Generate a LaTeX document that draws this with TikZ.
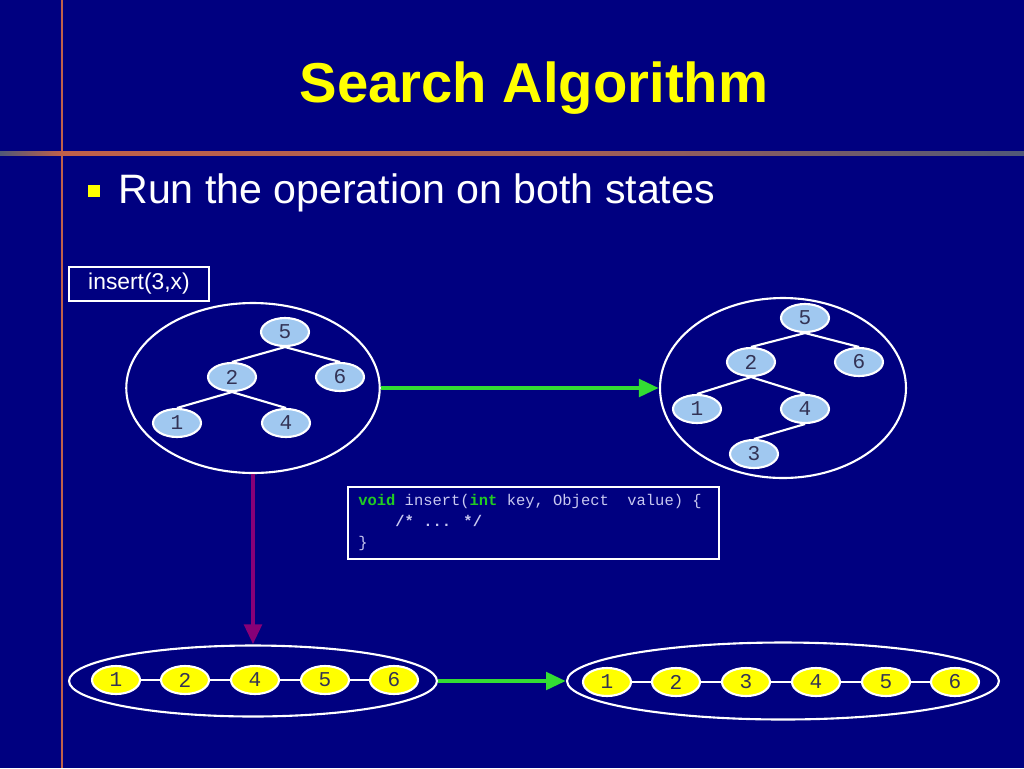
\documentclass[tikz,border=0pt]{standalone}
\usepackage{fontspec}
\setmainfont{Liberation Sans}
\newfontfamily\codefont{Liberation Mono}
\usepackage{tikz}
\usetikzlibrary{shapes.geometric,arrows.meta,positioning}
\definecolor{SlideBlue}{HTML}{000080}
\definecolor{SlideYellow}{HTML}{FFFF00}
\definecolor{NodeBlue}{HTML}{A0C8F0}
\definecolor{ArrowGreen}{HTML}{33DD33}
\definecolor{ArrowPurple}{HTML}{880077}
\definecolor{RuleRed}{HTML}{C0604A}
\definecolor{RuleGray}{HTML}{505878}
\definecolor{CodeText}{HTML}{C8C8F0}
\definecolor{CodeKey}{HTML}{22CC22}
\definecolor{DigitGray}{HTML}{333355}
\tikzset{
  treenode/.style={ellipse, draw=white, line width=1.2pt, fill=NodeBlue,
    minimum width=0.96cm, minimum height=0.56cm, inner sep=0pt,
    font=\codefont\fontsize{12}{12}\selectfont, text=DigitGray},
  listnode/.style={treenode, fill=SlideYellow},
  groupring/.style={ellipse, draw=white, line width=1.2pt, inner sep=0pt},
  treeedge/.style={draw=white, line width=1.2pt},
  movearrow/.style={line width=2.8pt, -{Triangle[length=0.4cm,width=0.34cm]}},
}
\begin{document}
\begin{tikzpicture}[x=0.02cm,y=-0.02cm]
        \fill[SlideBlue] (0,0) rectangle (1024,768);
        \useasboundingbox (0,0) rectangle (1024,768);
        % slide rules
        \shade[left color=RuleGray, right color=RuleRed] (0,151) rectangle (62,155);
        \shade[left color=RuleRed, right color=RuleGray, middle color=RuleRed!80!RuleGray] (62,151) rectangle (1024,155);
        \draw[RuleRed, line width=1.6pt] (62,0) -- (62,768);
        % title and bullet
        \node[font=\bfseries\fontsize{32}{32}\selectfont, text=SlideYellow, anchor=base] (title) at (534,102) {Search Algorithm};
        \fill[SlideYellow] (88,185) rectangle (100,197);
        \node[font=\fontsize{23.4}{24}\selectfont, text=white, anchor=base west, inner sep=0pt] (point) at (118,203) {Run the operation on both states};
        \node[draw=white, line width=0.6pt, minimum width=2.8cm, minimum height=0.68cm, text=white, font=\fontsize{13}{13}\selectfont] (op) at (139,284) {insert(3,x)};
        % tree before
        \node[groupring, minimum width=5.07cm, minimum height=3.4cm] (ltree) at (253,388) {};
        \node[treenode] (a5) at (285,332) {5};
        \node[treenode] (a2) at (232,377) {2};
        \node[treenode] (a6) at (340,377) {6};
        \node[treenode] (a1) at (177,423) {1};
        \node[treenode] (a4) at (286,423) {4};
        \draw[treeedge] (a5.south) -- (a2.north);
        \draw[treeedge] (a5.south) -- (a6.north);
        \draw[treeedge] (a2.south) -- (a1.north);
        \draw[treeedge] (a2.south) -- (a4.north);
        % tree after
        \node[groupring, minimum width=4.92cm, minimum height=3.6cm] (rtree) at (783,388) {};
        \node[treenode] (b5) at (805,318) {5};
        \node[treenode] (b2) at (751,362) {2};
        \node[treenode] (b6) at (859,362) {6};
        \node[treenode] (b1) at (697,409) {1};
        \node[treenode] (b4) at (805,409) {4};
        \node[treenode] (b3) at (754,454) {3};
        \draw[treeedge] (b5.south) -- (b2.north);
        \draw[treeedge] (b5.south) -- (b6.north);
        \draw[treeedge] (b2.south) -- (b1.north);
        \draw[treeedge] (b2.south) -- (b4.north);
        \draw[treeedge] (b4.south) -- (b3.north);
        % code
        \node[draw=white, line width=1.2pt, minimum width=7.42cm, minimum height=1.44cm] (codebox) at (533.5,523) {};
        \node[anchor=north west, inner sep=0pt, align=left, text=CodeText, font=\codefont\fontsize{8.8}{12}\selectfont] (code) at (358,494)
          {\textcolor{CodeKey}{\textbf{void}} insert(\textcolor{CodeKey}{\textbf{int}} key, Object\ \ value) \{\\
           \ \ \ \ \textbf{/* ... */}\\
           \}};
        % list before
        \node[groupring, minimum width=7.36cm, minimum height=1.42cm] (lseq) at (253,681) {};
        \node[listnode] (c1) at (116,680) {1};
        \node[listnode] (c2) at (185,680) {2};
        \node[listnode] (c4) at (255,680) {4};
        \node[listnode] (c5) at (325,680) {5};
        \node[listnode] (c6) at (394,680) {6};
        \draw[treeedge] (c1) -- (c2) (c2) -- (c4) (c4) -- (c5) (c5) -- (c6);
        % list after
        \node[groupring, minimum width=8.64cm, minimum height=1.54cm] (rseq) at (783,681) {};
        \node[listnode] (d1) at (607,682) {1};
        \node[listnode] (d2) at (676,682) {2};
        \node[listnode] (d3) at (746,682) {3};
        \node[listnode] (d4) at (816,682) {4};
        \node[listnode] (d5) at (886,682) {5};
        \node[listnode] (d6) at (955,682) {6};
        \draw[treeedge] (d1) -- (d2) (d2) -- (d3) (d3) -- (d4) (d4) -- (d5) (d5) -- (d6);
        % moves
        \draw[movearrow, ArrowGreen] (ltree.east) -- (rtree.west);
        \draw[movearrow, ArrowPurple] (ltree.south) -- (lseq.north);
        \draw[movearrow, ArrowGreen] (lseq.east) -- (rseq.west);
      \end{tikzpicture}
\end{document}
